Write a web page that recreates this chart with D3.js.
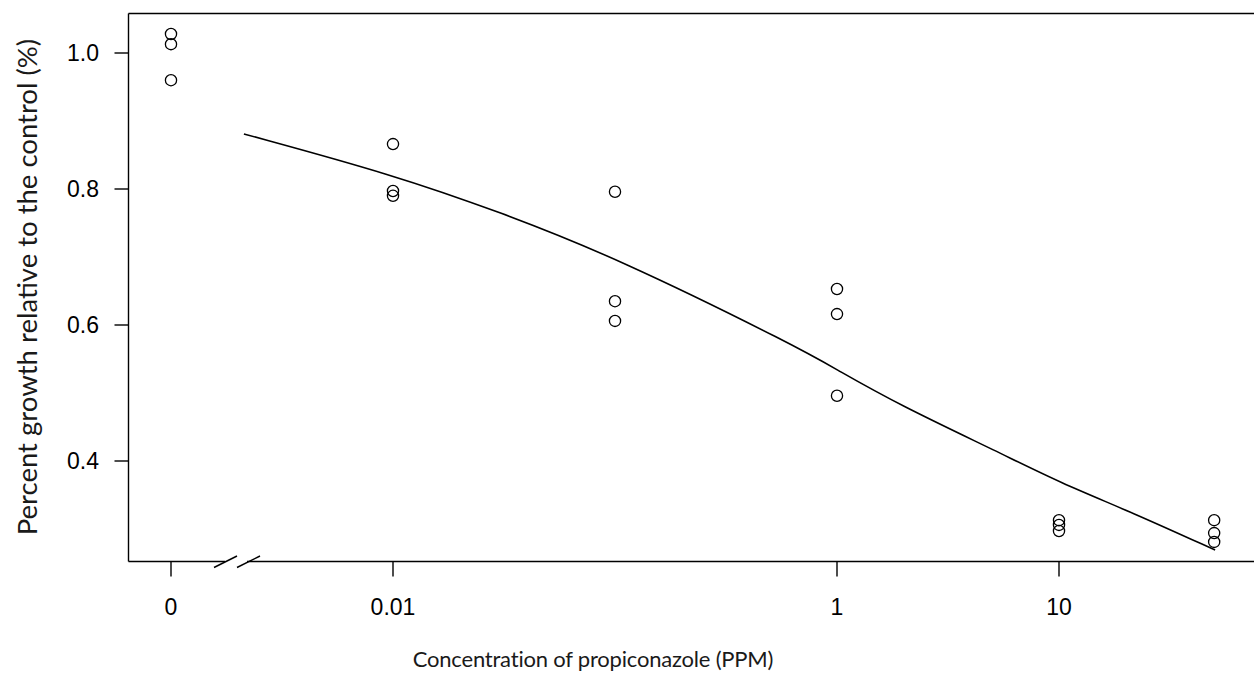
<!DOCTYPE html>
<html>
<head>
<meta charset="utf-8">
<script src="https://cdn.jsdelivr.net/npm/d3@7"></script>
<style>
  body { margin: 0; background: #fff; }
  svg { display: block; }
</style>
</head>
<body>
<div id="chart-area"></div>
<script>
// dose-response: growth vs propiconazole concentration

// observed replicates (dose 0 is drawn at the break position)
var doses  = [0, 0, 0, 0.01, 0.01, 0.01, 0.1, 0.1, 0.1, 1, 1, 1, 10, 10, 10, 50, 50, 50];
var growth = [1.028, 1.013, 0.960, 0.866, 0.797, 0.790, 0.796, 0.635, 0.606,
              0.653, 0.616, 0.496, 0.313, 0.306, 0.297, 0.313, 0.294, 0.281];

// fitted curve
var curveDose   = [0.00213, 0.01, 0.0303, 0.1, 0.681, 1, 1.92, 5.42, 10.1, 21.5, 50.5];
var curveGrowth = [0.881, 0.821, 0.766, 0.700, 0.566, 0.534, 0.482, 0.412, 0.368, 0.324, 0.269];

var xTicks = [0, 0.01, 1, 10];
var xTickLabels = ["0", "0.01", "1", "10"];
var yTicks = [0.4, 0.6, 0.8, 1.0];

var zeroAt = 0.001;   // where dose 0 sits on the log axis

var W = 1254, H = 675;
var margin = { left: 128.5, top: 13.5, bottom: 561.5 };

var tickFont = "'Liberation Sans'";
var titleFont = "'Lato'";

var svg = d3.select("#chart-area")
    .append("svg")
        .attr("width", W)
        .attr("height", H);

var x = d3.scaleLog()
    .domain([0.001, 100])
    .range([171, 1281]);

var y = d3.scaleLinear()
    .domain([0.4, 1.0])
    .range([461, 53]);

function xpos(d) { return x(d === 0 ? zeroAt : d); }

var ink = "#000";

// frame: top + left (right edge falls outside the picture)
svg.append("line")
    .attr("x1", margin.left).attr("x2", W)
    .attr("y1", margin.top).attr("y2", margin.top)
    .attr("stroke", ink).attr("stroke-width", 1.4);
svg.append("line")
    .attr("x1", margin.left).attr("x2", margin.left)
    .attr("y1", margin.top).attr("y2", margin.bottom)
    .attr("stroke", ink).attr("stroke-width", 1.4);

// bottom axis with a break between 0 and the log part
svg.append("line")
    .attr("x1", margin.left).attr("x2", 225)
    .attr("y1", margin.bottom).attr("y2", margin.bottom)
    .attr("stroke", ink).attr("stroke-width", 1.4);
svg.append("line")
    .attr("x1", 247).attr("x2", W)
    .attr("y1", margin.bottom).attr("y2", margin.bottom)
    .attr("stroke", ink).attr("stroke-width", 1.4);
[[214, 237], [237, 260]].forEach(function(s){
    svg.append("line")
        .attr("x1", s[0]).attr("y1", margin.bottom + 6)
        .attr("x2", s[1]).attr("y2", margin.bottom - 5.5)
        .attr("stroke", ink).attr("stroke-width", 1.4);
});

// x ticks
xTicks.forEach(function(t, i){
    svg.append("line")
        .attr("x1", xpos(t)).attr("x2", xpos(t))
        .attr("y1", margin.bottom).attr("y2", margin.bottom + 15)
        .attr("stroke", ink).attr("stroke-width", 1.4);
    svg.append("text")
        .attr("x", xpos(t))
        .attr("y", 615)
        .attr("text-anchor", "middle")
        .style("font-family", tickFont)
        .style("font-size", "23px")
        .text(xTickLabels[i]);
});

// y ticks
yTicks.forEach(function(t){
    svg.append("line")
        .attr("x1", margin.left - 14).attr("x2", margin.left)
        .attr("y1", y(t)).attr("y2", y(t))
        .attr("stroke", ink).attr("stroke-width", 1.4);
    svg.append("text")
        .attr("x", 99)
        .attr("y", y(t) + 8)
        .attr("text-anchor", "end")
        .style("font-family", tickFont)
        .style("font-size", "23px")
        .text(d3.format(".1f")(t));
});

// fitted curve
var line = d3.line()
    .x(function(d){ return x(d[0]); })
    .y(function(d){ return y(d[1]); })
    .curve(d3.curveBasis);

svg.append("path")
    .datum(d3.zip(curveDose, curveGrowth))
    .attr("d", line)
    .attr("fill", "none")
    .attr("stroke", ink)
    .attr("stroke-width", 1.6);

// points
svg.selectAll("circle.obs")
    .data(d3.zip(doses, growth))
    .join("circle")
        .attr("class", "obs")
        .attr("cx", function(d){ return xpos(d[0]); })
        .attr("cy", function(d){ return y(d[1]); })
        .attr("r", 5.6)
        .attr("fill", "none")
        .attr("stroke", ink)
        .attr("stroke-width", 1.3);

// axis titles
svg.append("text")
    .attr("x", 593)
    .attr("y", 667)
    .attr("text-anchor", "middle")
    .style("font-family", titleFont)
    .style("font-size", "22px")
    .style("letter-spacing", "-0.2px")
    .style("fill", "#1a1a1a")
    .text("Concentration of propiconazole (PPM)");

svg.append("text")
    .attr("transform", "translate(37,287) rotate(-90)")
    .attr("text-anchor", "middle")
    .style("font-family", titleFont)
    .style("font-size", "27.5px")
    .style("fill", "#1a1a1a")
    .text("Percent growth relative to the control (%)");
</script>
</body>
</html>
